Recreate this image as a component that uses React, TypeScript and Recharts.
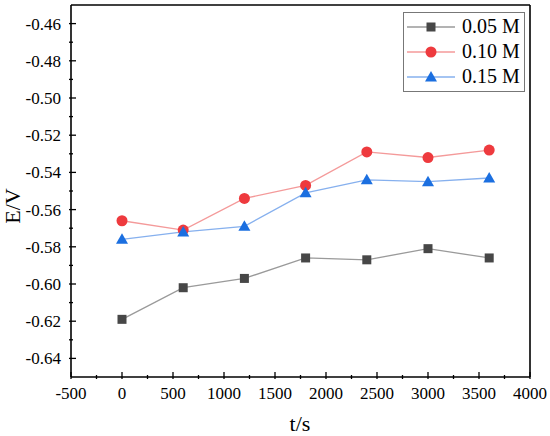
import React from "react";
import { LineChart, Line, XAxis, YAxis, ReferenceLine } from "recharts";

const times = [0, 600, 1200, 1800, 2400, 3000, 3600];
const conc005 = [-0.619, -0.602, -0.597, -0.586, -0.587, -0.581, -0.586];
const conc010 = [-0.566, -0.571, -0.554, -0.547, -0.529, -0.532, -0.528];
const conc015 = [-0.576, -0.572, -0.569, -0.551, -0.544, -0.545, -0.543];

const xMajor = [-500, 0, 500, 1000, 1500, 2000, 2500, 3000, 3500, 4000];
const xMinor = [-250, 250, 750, 1250, 1750, 2250, 2750, 3250, 3750];
const yMajor = [-0.64, -0.62, -0.6, -0.58, -0.56, -0.54, -0.52, -0.5, -0.48, -0.46];
const yMinor = [-0.63, -0.61, -0.59, -0.57, -0.55, -0.53, -0.51, -0.49, -0.47];

const xAll = [...xMajor, ...xMinor].sort((a, b) => a - b);
const yAll = [...yMajor, ...yMinor].sort((a, b) => a - b);

const data = times.map((t, i) => ({
  t,
  a: conc005[i],
  b: conc010[i],
  c: conc015[i],
}));

const FONT = "Liberation Serif";

const SERIES = [
  { key: "a", name: "0.05 M", line: "#9a9a9a", mark: "#474747", shape: "square" },
  { key: "b", name: "0.10 M", line: "#f49a9a", mark: "#ee3a3e", shape: "circle" },
  { key: "c", name: "0.15 M", line: "#86b0ee", mark: "#1b6fe0", shape: "triangle" },
];

function Marker({ cx, cy, shape, color }: any) {
  if (cx == null || cy == null) return null;
  if (shape === "square") {
    return <rect x={cx - 4.5} y={cy - 4.5} width={9} height={9} fill={color} />;
  }
  if (shape === "circle") {
    return <circle cx={cx} cy={cy} r={5.5} fill={color} />;
  }
  return (
    <polygon
      points={`${cx},${cy - 6} ${cx - 6},${cy + 4.5} ${cx + 6},${cy + 4.5}`}
      fill={color}
    />
  );
}

const isMajorX = (v: number) => xMajor.includes(v);
const isMajorY = (v: number) => yMajor.some((m) => Math.abs(m - v) < 1e-9);

// inward ticks, drawn by hand so the labels stay outside the frame
const BottomTick = (p: any) => {
  const major = isMajorX(p.payload.value);
  return (
    <g>
      <line x1={p.x} y1={p.y} x2={p.x} y2={p.y - (major ? 7 : 4)} stroke="#000" strokeWidth={1.3} />
      {major && (
        <text x={p.x} y={p.y + 20} textAnchor="middle" fontSize={17} fontFamily={FONT} fill="#000">
          {p.payload.value}
        </text>
      )}
    </g>
  );
};

const LeftTick = (p: any) => {
  const major = isMajorY(p.payload.value);
  return (
    <g>
      <line x1={p.x} y1={p.y} x2={p.x + (major ? 7 : 4)} y2={p.y} stroke="#000" strokeWidth={1.3} />
      {major && (
        <text x={p.x - 8} y={p.y + 6} textAnchor="end" fontSize={17} fontFamily={FONT} fill="#000">
          {Number(p.payload.value).toFixed(2)}
        </text>
      )}
    </g>
  );
};

function LegendBox() {
  return (
    <div
      style={{
        position: "absolute",
        left: 403,
        top: 12,
        border: "1px solid #777",
        background: "#fff",
        padding: "1px 4px 2px 2px",
        fontFamily: FONT,
        fontSize: 20,
        lineHeight: "25px",
      }}
    >
      {SERIES.map((s) => (
        <div key={s.key} style={{ display: "flex", alignItems: "center" }}>
          <svg width={50} height={14} style={{ marginRight: 6 }}>
            <line x1={1} y1={7} x2={49} y2={7} stroke={s.line} strokeWidth={1.5} />
            <Marker cx={25} cy={7} shape={s.shape} color={s.mark} />
          </svg>
          <span>{s.name}</span>
        </div>
      ))}
    </div>
  );
}

const axisStroke = { stroke: "#000", strokeWidth: 1.6 };

export default function App() {
  return (
    <div style={{ position: "relative", width: 550, height: 436, background: "#fff" }}>
      <style>{"body{margin:0}"}</style>
      <LineChart
        width={550}
        height={436}
        data={data}
        margin={{ top: 5, right: 20, bottom: 0, left: 0 }}
      >
        <XAxis
          dataKey="t"
          type="number"
          domain={[-500, 4000]}
          ticks={xAll}
          interval={0}
          tick={BottomTick}
          tickLine={false}
          tickSize={0}
          height={59}
          axisLine={axisStroke}
          label={{
            content: () => (
              <text x={300} y={431} textAnchor="middle" fontSize={22} fontFamily={FONT} fill="#000">
                t/s
              </text>
            ),
          }}
        />
        <YAxis
          type="number"
          domain={[-0.65, -0.45]}
          ticks={yAll}
          interval={0}
          tick={LeftTick}
          tickLine={false}
          tickSize={0}
          width={71}
          axisLine={axisStroke}
          label={{
            content: () => (
              <text
                x={20}
                y={206}
                transform="rotate(-90 20 206)"
                textAnchor="middle"
                fontSize={22}
                fontFamily={FONT}
                fill="#000"
              >
                E/V
              </text>
            ),
          }}
        />
        <ReferenceLine y={-0.45} stroke="#000" strokeWidth={1.6} ifOverflow="visible" />
        <ReferenceLine x={4000} stroke="#000" strokeWidth={1.6} ifOverflow="visible" />
        {SERIES.map((s) => (
          <Line
            key={s.key}
            dataKey={s.key}
            name={s.name}
            type="linear"
            stroke={s.line}
            strokeWidth={1.3}
            isAnimationActive={false}
            dot={(p: any) => <Marker key={p.index} cx={p.cx} cy={p.cy} shape={s.shape} color={s.mark} />}
            activeDot={false}
          />
        ))}
      </LineChart>
      <LegendBox />
    </div>
  );
}
